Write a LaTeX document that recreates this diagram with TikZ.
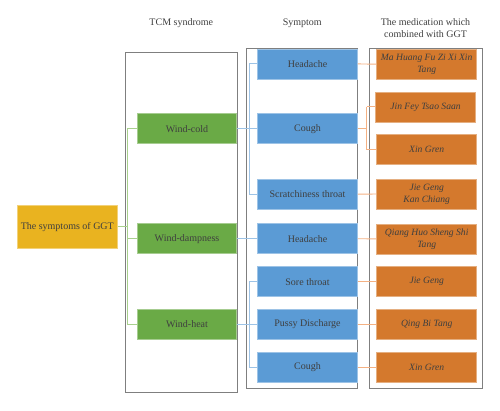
\documentclass[tikz,border=0pt]{standalone}
\usepackage{fontspec}
\setmainfont{Liberation Serif}
\definecolor{gold}{HTML}{E9B320}
\definecolor{grn}{HTML}{6AAA46}
\definecolor{blu}{HTML}{5B9BD5}
\definecolor{org}{HTML}{D4792D}
\definecolor{gline}{HTML}{A8D08D}
\definecolor{bline}{HTML}{9DC3E6}
\definecolor{oline}{HTML}{F4B183}
\definecolor{txt}{HTML}{3F3F3F}
\definecolor{frm}{HTML}{7F7F7F}
\begin{document}
\begin{tikzpicture}[x=1pt,y=-1pt,font=\fontsize{10}{11}\selectfont,
  box/.style={rectangle,inner sep=1pt,minimum height=30pt,text=txt,align=center},
  rootbox/.style={box,fill=gold,draw=gold!60!white,line width=0.5pt,minimum width=100pt,minimum height=43pt},
  gbox/.style={box,fill=grn,draw=grn!60!white,line width=0.5pt,minimum width=99.4pt},
  bbox/.style={box,fill=blu,draw=blu!60!white,line width=0.5pt,minimum width=100.4pt},
  obox/.style={box,fill=org,draw=org!60!white,line width=0.5pt,minimum width=100pt,font=\fontsize{9.6}{12}\selectfont\itshape},
  frame/.style={rectangle,draw=frm,line width=0.8pt,minimum height=340pt,inner sep=0pt},
  head/.style={text=txt,align=center,font=\fontsize{10}{11.7}\selectfont},
  gl/.style={draw=gline,line width=0.9pt},
  bl/.style={draw=bline,line width=0.9pt},
  ol/.style={draw=oline,line width=0.9pt}]
\useasboundingbox (0,0) rectangle (500,410);

% headers
\node[head] (hT) at (181.3,23) {TCM syndrome};
\node[head] (hS) at (302.3,23) {Symptom};
\node[head] (hM) at (425.5,28) {The medication which\\combined with GGT};

% frames
\node[frame,minimum width=112pt] (fT) at (181.3,222) {};
\node[frame,minimum width=111.4pt] (fS) at (302,218) {};
\node[frame,minimum width=113pt] (fM) at (425.5,218) {};

% root
\node[rootbox] (root) at (67.3,226.7) {The symptoms of GGT};

% TCM syndromes
\node[gbox] (g1) at (187,128.7) {Wind-cold};
\node[gbox] (g2) at (187,238.7) {Wind-dampness};
\node[gbox] (g3) at (187,324.4) {Wind-heat};

% symptoms
\node[bbox] (s1) at (307.5,63.9) {Headache};
\node[bbox] (s2) at (307.5,128.7) {Cough};
\node[bbox] (s3) at (307.5,194.2) {Scratchiness throat};
\node[bbox] (s4) at (307.5,238.7) {Headache};
\node[bbox] (s5) at (307.5,281.7) {Sore throat};
\node[bbox] (s6) at (307.5,324.4) {Pussy Discharge};
\node[bbox] (s7) at (307.5,367.5) {Cough};

% medications
\node[obox] (m1) at (426.7,64.2) {Ma Huang Fu Zi Xi Xin\\Tang};
\node[obox] (m2) at (425.5,106.9) {Jin Fey Tsao Saan};
\node[obox] (m3) at (426.7,149.7) {Xin Gren};
\node[obox] (m4) at (426.7,194) {Jie Geng\\Kan Chiang};
\node[obox] (m5) at (426.7,238.9) {Qiang Huo Sheng Shi\\Tang};
\node[obox] (m6) at (426.7,281.7) {Jie Geng};
\node[obox] (m7) at (426.7,324.4) {Qing Bi Tang};
\node[obox] (m8) at (426.7,367.5) {Xin Gren};

% bus coordinates
\coordinate (gx) at (127.3,0);
\coordinate (bx) at (249,0);
\coordinate (ox) at (366.7,0);

% green connectors
\draw[gl] (root.east) -- (gx |- root.east);
\draw[gl] (gx |- g1.west) -- (gx |- g3.west);
\draw[gl] (gx |- g1.west) -- (g1.west);
\draw[gl] (gx |- g2.west) -- (g2.west);
\draw[gl] (gx |- g3.west) -- (g3.west);

% blue connectors
\draw[bl] (g1.east) -- (s2.west);
\draw[bl] (bx |- s1.west) -- (bx |- s3.west);
\draw[bl] (bx |- s1.west) -- (s1.west);
\draw[bl] (bx |- s3.west) -- (s3.west);
\draw[bl] (g2.east) -- (s4.west);
\draw[bl] (g3.east) -- (s6.west);
\draw[bl] (bx |- s5.west) -- (bx |- s7.west);
\draw[bl] (bx |- s5.west) -- (s5.west);
\draw[bl] (bx |- s7.west) -- (s7.west);

% orange connectors
\draw[ol] (s1.east) -- (m1.west);
\draw[ol] (s2.east) -- (ox |- s2.east);
\draw[ol] (ox |- m2.west) -- (ox |- m3.west);
\draw[ol] (ox |- m2.west) -- (m2.west);
\draw[ol] (ox |- m3.west) -- (m3.west);
\draw[ol] (s3.east) -- (m4.west);
\draw[ol] (s4.east) -- (m5.west);
\draw[ol] (s5.east) -- (m6.west);
\draw[ol] (s6.east) -- (m7.west);
\draw[ol] (s7.east) -- (m8.west);
\end{tikzpicture}
\end{document}
